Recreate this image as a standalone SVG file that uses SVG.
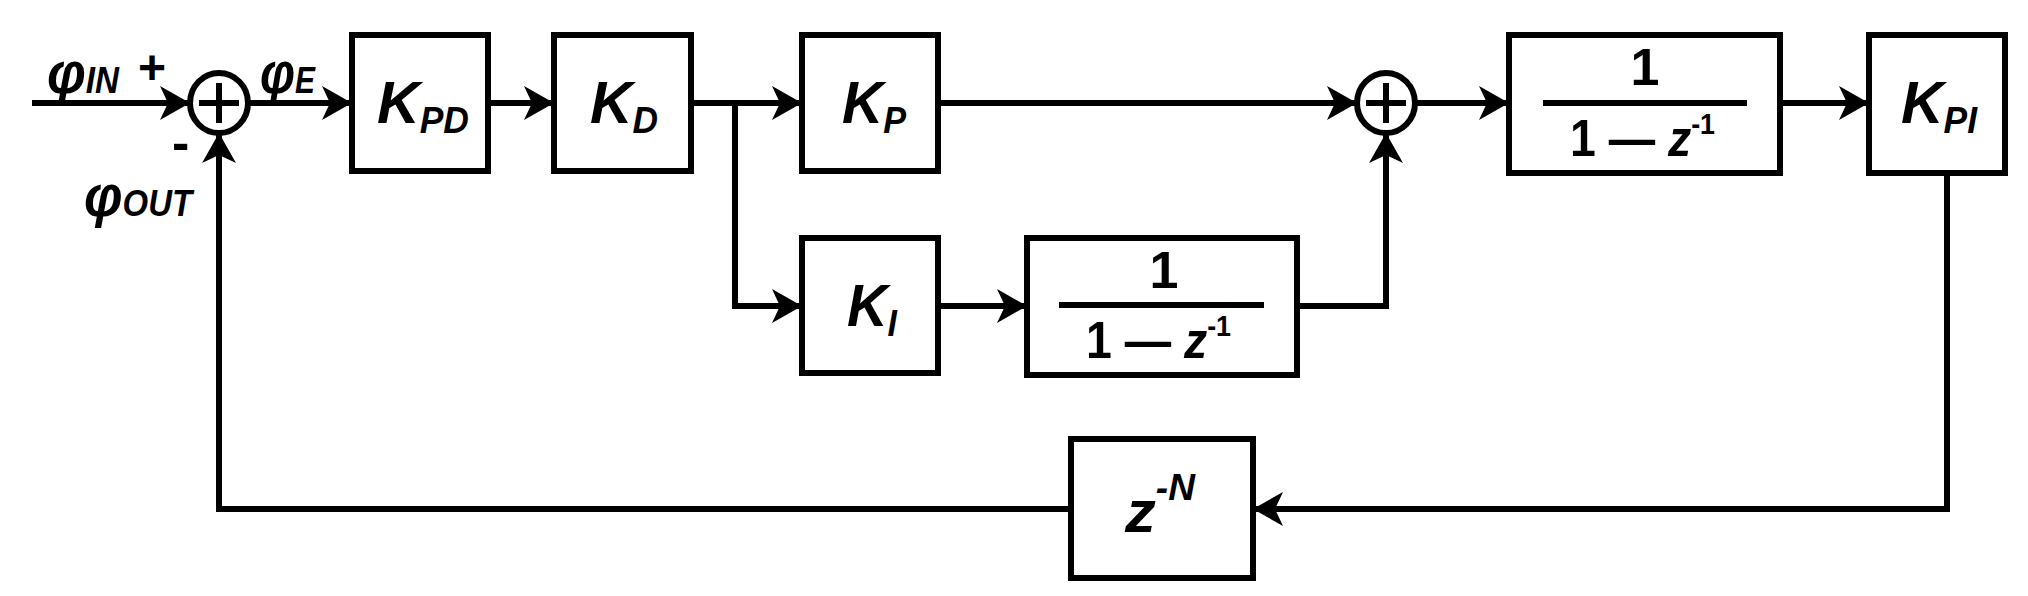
<svg xmlns="http://www.w3.org/2000/svg" width="2028" height="596" viewBox="0 0 2028 596">
<style>
.b{fill:#fff;stroke:#000;stroke-width:6}
.c{fill:none;stroke:#000;stroke-width:6;marker-end:url(#a)}
.w{fill:none;stroke:#000;stroke-width:6}
text{font-family:"Liberation Sans",Arial,sans-serif;font-weight:bold;fill:#000}
.k{font-size:60px;font-style:italic}
.s{font-size:36px;font-style:italic}
.n{font-size:52px}
</style>
<defs>
<marker id="a" markerUnits="userSpaceOnUse" markerWidth="34" markerHeight="34" refX="30" refY="17" orient="auto">
<path d="M0,0 L30,17 L0,34 L8,17 Z" fill="#000"/>
</marker>
</defs>
<g id="connectors">
<path class="c" d="M32,103 H190"/>
<path class="c" d="M249,103 H352"/>
<path class="c" d="M488,103 H554"/>
<path class="c" d="M691,103 H802"/>
<path class="c" d="M735,103 V306 H802"/>
<path class="c" d="M938,306 H1027"/>
<path class="c" d="M938,103 H1357"/>
<path class="c" d="M1297,306 H1386 V133"/>
<path class="c" d="M1415,103 H1509"/>
<path class="c" d="M1780,103 H1869"/>
<path class="c" d="M1947,173 V509 H1253"/>
<path class="c" d="M1071,509 H219 V133"/>
</g>
<g id="sum1"><ellipse class="b" cx="219" cy="103" rx="29" ry="30"/><path class="w" d="M199,103 H239 M219,83 V123"/></g>
<g id="sum2"><ellipse class="b" cx="1386" cy="103" rx="29" ry="30"/><path class="w" d="M1366,103 H1406 M1386,83 V123"/></g>
<g id="labels">
<text x="47" y="93" class="k" font-size="46" textLength="72" lengthAdjust="spacingAndGlyphs">φ<tspan class="s" font-size="30">IN</tspan></text>
<text x="138" y="84" font-size="48">+</text>
<text x="172" y="160" font-size="52">-</text>
<text x="84" y="216" class="k" font-size="46" textLength="108" lengthAdjust="spacingAndGlyphs">φ<tspan class="s" font-size="30">OUT</tspan></text>
<text x="260" y="93" class="k" font-size="46" textLength="55" lengthAdjust="spacingAndGlyphs">φ<tspan class="s" font-size="30">E</tspan></text>
</g>
<g id="kpd"><rect class="b" x="352" y="35" width="136" height="136"/><text x="377" y="123" class="k" textLength="92" lengthAdjust="spacingAndGlyphs">K<tspan class="s" dy="10">PD</tspan></text></g>
<g id="kd"><rect class="b" x="554" y="35" width="137" height="136"/><text x="590" y="123" class="k" textLength="68" lengthAdjust="spacingAndGlyphs">K<tspan class="s" dy="10">D</tspan></text></g>
<g id="kp"><rect class="b" x="802" y="35" width="136" height="136"/><text x="842" y="123" class="k" textLength="64" lengthAdjust="spacingAndGlyphs">K<tspan class="s" dy="10">P</tspan></text></g>
<g id="ki"><rect class="b" x="802" y="238" width="136" height="135"/><text x="847" y="326" class="k" textLength="50" lengthAdjust="spacingAndGlyphs">K<tspan class="s" dy="10">I</tspan></text></g>
<g id="int1"><rect class="b" x="1027" y="238" width="270" height="137"/><text x="1164" y="288" class="n" text-anchor="middle">1</text><path class="w" d="M1059,305 H1264"/><text x="1086" y="358" class="n" textLength="145" lengthAdjust="spacingAndGlyphs">1 — <tspan font-style="italic">z</tspan><tspan font-size="30" dy="-22">-1</tspan></text></g>
<g id="int2"><rect class="b" x="1509" y="35" width="271" height="138"/><text x="1645" y="85" class="n" text-anchor="middle">1</text><path class="w" d="M1543,103 H1747"/><text x="1570" y="156" class="n" textLength="145" lengthAdjust="spacingAndGlyphs">1 — <tspan font-style="italic">z</tspan><tspan font-size="30" dy="-22">-1</tspan></text></g>
<g id="kpi"><rect class="b" x="1869" y="35" width="136" height="138"/><text x="1901" y="123" class="k" textLength="76" lengthAdjust="spacingAndGlyphs">K<tspan class="s" dy="10">PI</tspan></text></g>
<g id="zn"><rect class="b" x="1071" y="439" width="182" height="139"/><text x="1125" y="532" class="k" textLength="70" lengthAdjust="spacingAndGlyphs">z<tspan class="s" dy="-32">-N</tspan></text></g>
</svg>
